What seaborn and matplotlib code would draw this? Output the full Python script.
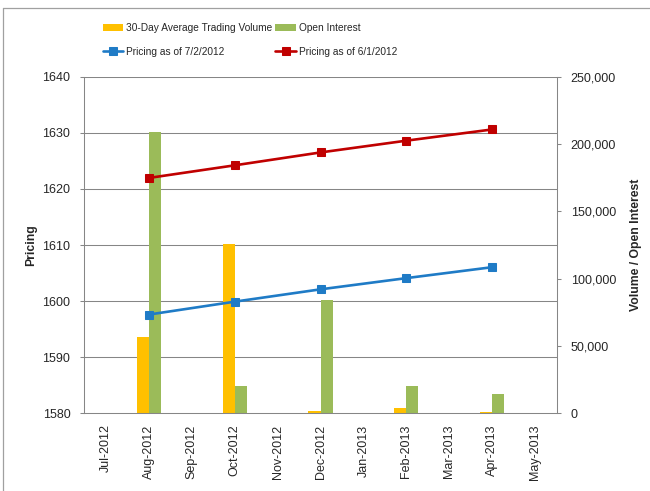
import matplotlib
matplotlib.use("Agg")
import matplotlib.pyplot as plt
from matplotlib.lines import Line2D
import pandas as pd
import seaborn as sns

months = ['Jul-2012', 'Aug-2012', 'Sep-2012', 'Oct-2012', 'Nov-2012', 'Dec-2012',
          'Jan-2013', 'Feb-2013', 'Mar-2013', 'Apr-2013', 'May-2013']
contract_months = ['Aug-2012', 'Oct-2012', 'Dec-2012', 'Feb-2013', 'Apr-2013']
avg_volume = [56600, 125900, 1700, 4200, 1000]
open_interest = [209000, 20000, 83800, 20000, 14100]
price_jul2 = [1597.6, 1599.9, 1602.1, 1604.1, 1606.05]
price_jun1 = [1621.95, 1624.2, 1626.5, 1628.6, 1630.6]

vol_lbl = '30-Day Average Trading Volume'
oi_lbl = 'Open Interest'

bars = pd.DataFrame({'month': contract_months * 2,
                     'value': avg_volume + open_interest,
                     'series': [vol_lbl] * 5 + [oi_lbl] * 5})
xpos = [months.index(m) for m in contract_months]

sns.set_style('white')
plt.rcParams['font.family'] = ['Liberation Sans', 'DejaVu Sans']
plt.rcParams['font.size'] = 8.8

grey = '#868686'
fig = plt.figure(figsize=(6.5, 4.91), dpi=100, facecolor='white')
ax = fig.add_axes([0.1297, 0.1582, 0.7268, 0.6856])
ax2 = ax.twinx()

# bars go on the right (volume) axis, drawn underneath the price lines
sns.barplot(data=bars, x='month', y='value', hue='series', order=months,
            hue_order=[vol_lbl, oi_lbl], palette=['#FFC000', '#9BBB59'],
            saturation=1, width=0.56, ax=ax2, linewidth=0)
bar_leg = ax2.get_legend()
bar_handles = list(bar_leg.legend_handles)
bar_labels = [t.get_text() for t in bar_leg.get_texts()]
bar_leg.remove()

# horizontal grid follows the left (pricing) axis but sits behind the bars
pticks = [1580, 1590, 1600, 1610, 1620, 1630, 1640]
for t in pticks[1:]:
    ax2.plot([0, 1], [t, t], transform=ax.get_yaxis_transform(), color=grey,
             lw=0.75, zorder=0)

sns.lineplot(x=xpos, y=price_jul2, ax=ax, color='#1F7BC6', lw=1.9, marker='s',
             markersize=5.2, markeredgecolor='#1F7BC6', label='Pricing as of 7/2/2012')
sns.lineplot(x=xpos, y=price_jun1, ax=ax, color='#C00000', lw=1.9, marker='s',
             markersize=5.2, markeredgecolor='#C00000', label='Pricing as of 6/1/2012')
line_handles, line_labels = ax.get_legend_handles_labels()
ax.get_legend().remove()

ax.set_zorder(ax2.get_zorder() + 1)
ax.patch.set_visible(False)

ax.set_ylim(1580, 1640)
ax.set_yticks(pticks)
ax2.set_ylim(0, 250000)
ax2.set_yticks(range(0, 250001, 50000))
ax2.set_yticklabels([f'{v:,}' for v in range(0, 250001, 50000)])
ax.set_xlim(-0.5, len(months) - 0.5)

ax.set_xticks(range(len(months)))
ax.set_xticklabels(months, rotation=90)
ax.set_xticks([i - 0.5 for i in range(len(months) + 1)], minor=True)
ax.tick_params(axis='x', which='major', length=0, pad=8, labelsize=9)
ax.tick_params(axis='x', which='minor', length=4, color=grey, width=0.75)
ax.tick_params(axis='y', length=3, color=grey, width=0.75, pad=7, left=True, labelsize=9)
ax2.tick_params(axis='y', length=3, color=grey, width=0.75, pad=7, right=True, labelsize=9)
ax2.tick_params(axis='x', bottom=False, labelbottom=False)
ax2.set_xlabel('')

ax.set_ylabel('Pricing', fontweight='bold', labelpad=4)
ax2.set_ylabel('Volume / Open Interest', fontweight='bold', labelpad=10)

for a in (ax, ax2):
    for side, sp in a.spines.items():
        sp.set_color(grey)
        sp.set_linewidth(0.75)
    a.spines['top'].set_visible(False)
ax.spines['right'].set_visible(False)
ax2.spines['left'].set_visible(False)
ax2.spines['bottom'].set_visible(False)

handles = [bar_handles[0], line_handles[0], bar_handles[1], line_handles[1]]
labels = [bar_labels[0], line_labels[0], bar_labels[1], line_labels[1]]
fig.legend(handles, labels, ncol=2, loc='upper left', bbox_to_anchor=(0.152, 0.962),
           frameon=False, fontsize=7.3, handlelength=2.0, handletextpad=0.3,
           columnspacing=0.3, labelspacing=1.4, borderaxespad=0)

# chart-area border (left and top edges visible in the crop)
fig.add_artist(Line2D([2.5 / 650, 2.5 / 650], [0, 1 - 7.5 / 491], color='#A0A0A0', lw=0.9))
fig.add_artist(Line2D([2.5 / 650, 1], [1 - 7.5 / 491, 1 - 7.5 / 491], color='#A0A0A0', lw=0.9))

fig.savefig('out.png', dpi=100, facecolor='white')
